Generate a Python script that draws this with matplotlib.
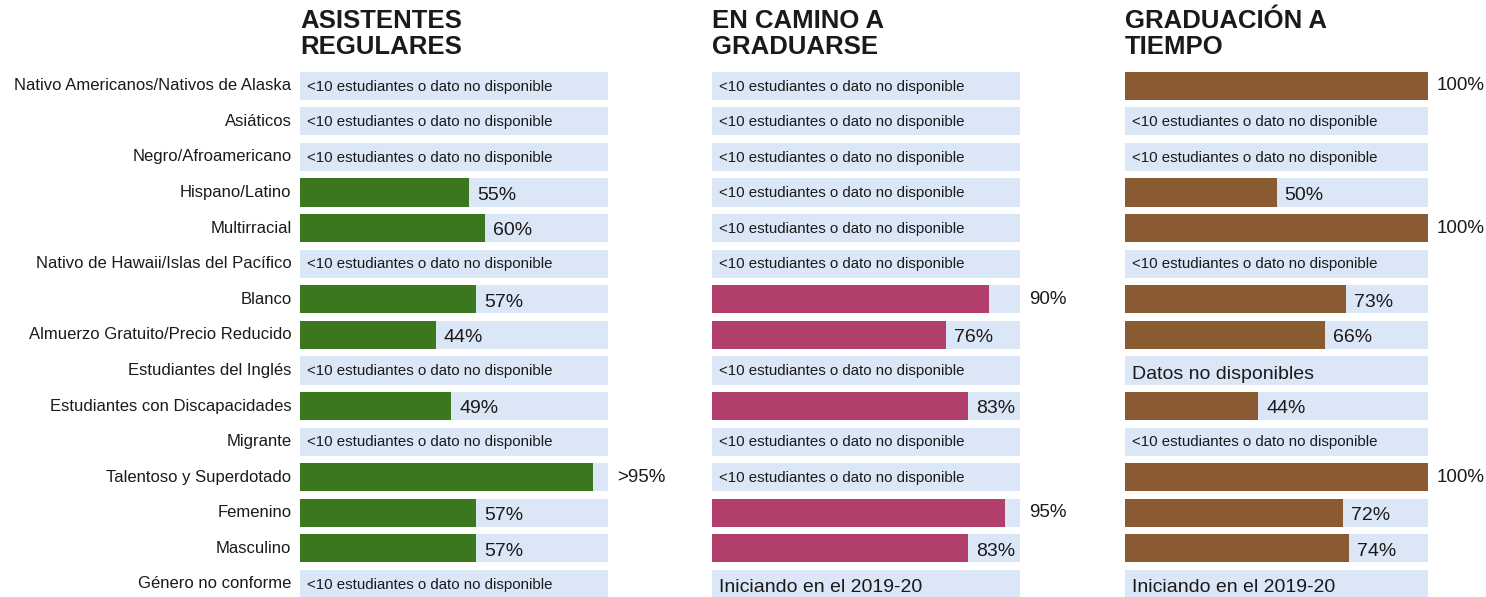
import matplotlib.pyplot as plt

plt.rcParams['font.family'] = ['Liberation Sans', 'DejaVu Sans']

groups = ['Nativo Americanos/Nativos de Alaska', 'Asiáticos', 'Negro/Afroamericano',
          'Hispano/Latino', 'Multirracial', 'Nativo de Hawaii/Islas del Pacífico',
          'Blanco', 'Almuerzo Gratuito/Precio Reducido', 'Estudiantes del Inglés',
          'Estudiantes con Discapacidades', 'Migrante', 'Talentoso y Superdotado',
          'Femenino', 'Masculino', 'Género no conforme']

# None = "<10 estudiantes o dato no disponible", str = other note
asistentes = [None, None, None, 55, 60, None, 57, 44, None, 49, None, 95, 57, 57, None]
asistentes_lbl = [None, None, None, '55%', '60%', None, '57%', '44%', None, '49%', None,
                  '>95%', '57%', '57%', None]

en_camino = [None, None, None, None, None, None, 90, 76, None, 83, None, None, 95, 83,
             'Iniciando en el 2019-20']
en_camino_lbl = [None, None, None, None, None, None, '90%', '76%', None, '83%', None, None,
                 '95%', '83%', None]

graduacion = [100, None, None, 50, 100, None, 73, 66, 'Datos no disponibles', 44, None,
              100, 72, 74, 'Iniciando en el 2019-20']
graduacion_lbl = ['100%', None, None, '50%', '100%', None, '73%', '66%', None, '44%', None,
                  '100%', '72%', '74%', None]

titles = ['ASISTENTES\nREGULARES', 'EN CAMINO A\nGRADUARSE', 'GRADUACIÓN A\nTIEMPO']
colors = ['#3b771c', '#b23e6c', '#8a5a33']
bg = '#dbe6f6'
txt = '#1a1a1a'
NA = '<10 estudiantes o dato no disponible'

fig = plt.figure(figsize=(14.86, 5.97), dpi=100)
W, H = 1486, 597
panels = [(300, 308), (712, 308), (1125, 303)]
top = 68
ylo = (H - 86) / 35.57

series = [(asistentes, asistentes_lbl), (en_camino, en_camino_lbl), (graduacion, graduacion_lbl)]

for k, ((vals, lbls), (x0, w)) in enumerate(zip(series, panels)):
    ax = fig.add_axes([x0 / W, 0, w / W, 1 - top / H])
    ax.set_xlim(0, 100)
    ax.set_ylim(ylo, -0.5)
    ax.axis('off')
    n = len(groups)
    ax.barh(range(n), [100] * n, height=0.79, color=bg, clip_on=False)
    for i, v in enumerate(vals):
        if v is None:
            ax.text(2.3, i + 0.02, NA, va='center', ha='left', fontsize=10.8, color=txt)
        elif isinstance(v, str):
            ax.text(2.3, i + 0.1, v, va='center', ha='left', fontsize=14, color=txt)
        else:
            ax.barh(i, v, height=0.79, color=colors[k], clip_on=False)
            if v >= 85:
                ax.text(103, i, lbls[i], va='center', ha='left', fontsize=13.5, color=txt)
            else:
                ax.text(v + 2.7, i + 0.08, lbls[i], va='center', ha='left', fontsize=14,
                        color=txt)
    if k == 0:
        for i, g in enumerate(groups):
            ax.text(-2.8, i, g, va='center', ha='right', fontsize=12.0, color=txt)
    fig.text(x0 / W, 1 - 9 / H, titles[k], ha='left', va='top', fontsize=18.5,
             fontweight='bold', linespacing=1.12, color=txt)

fig.savefig('out.png', dpi=100)
